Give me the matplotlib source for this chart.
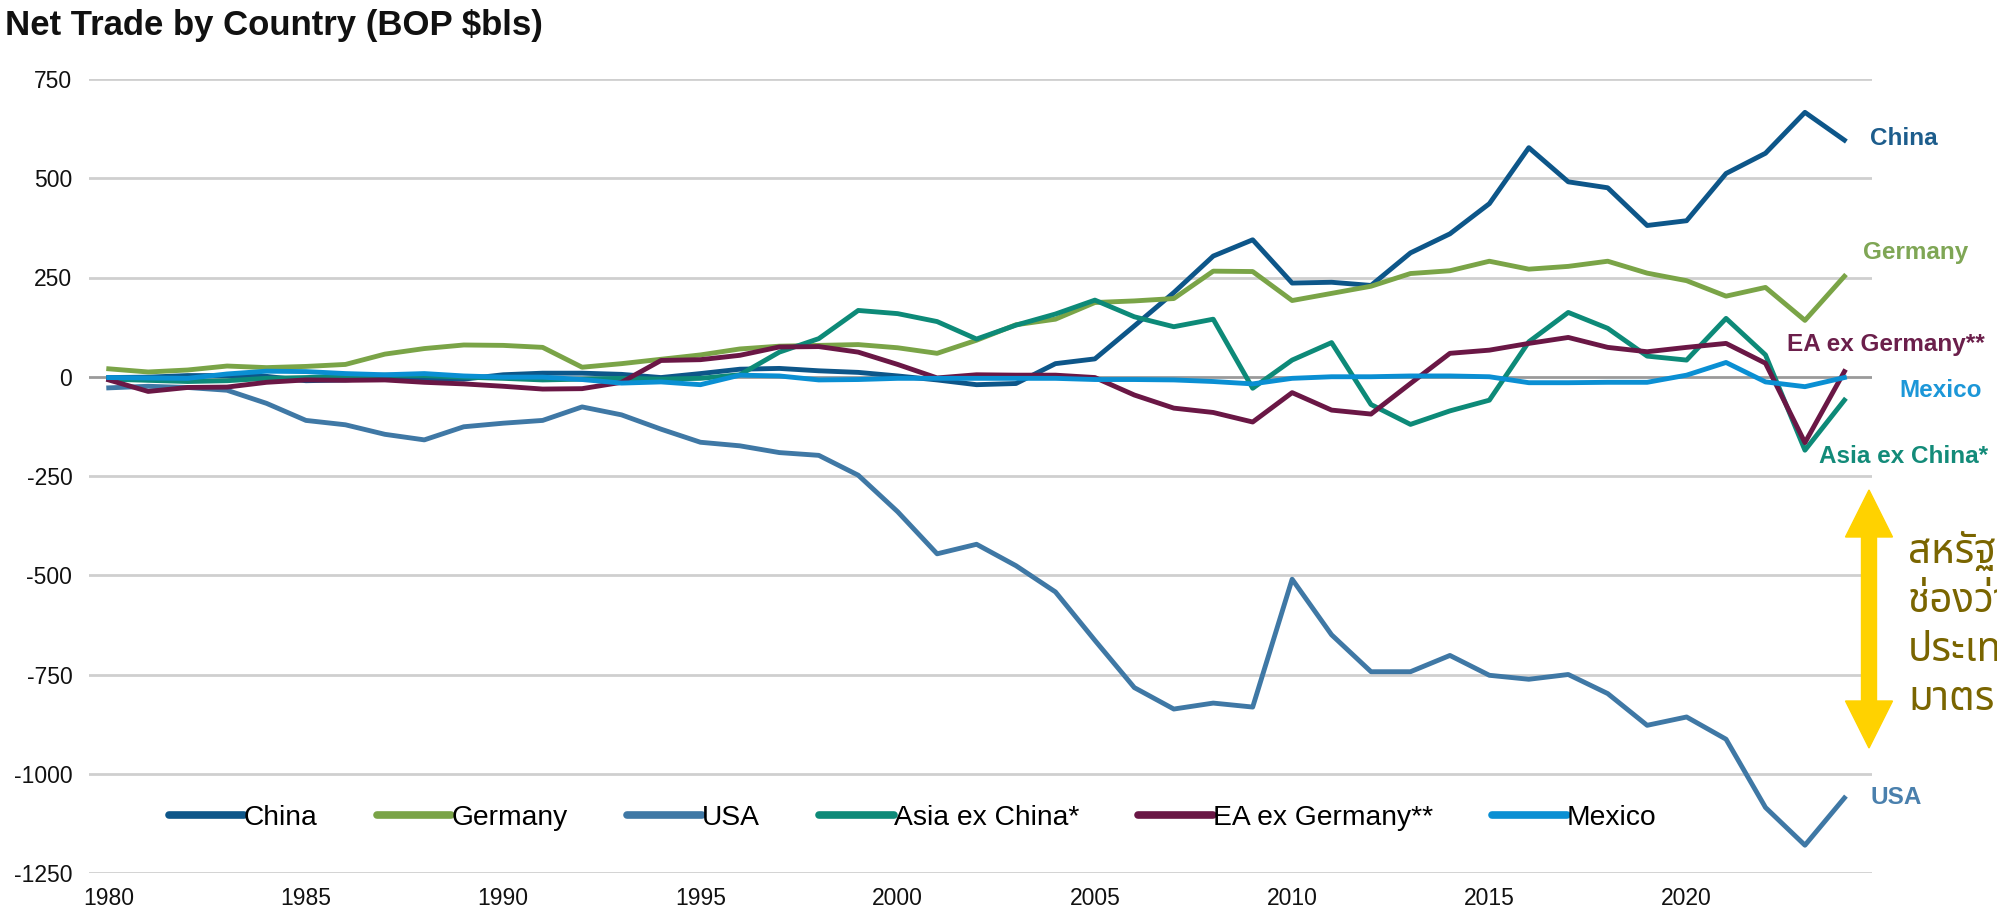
import matplotlib
matplotlib.use('Agg')
import matplotlib.pyplot as plt  # plotting
import matplotlib.patches as mpatches
import matplotlib.transforms as mtransforms

# ---- data (BOP $bls) ----
years = list(range(1980, 2025))

china = [-2, -1, 3, 3, 1, -10, -8, -3, -5, -6, 5, 9, 9, 6, -2, 8, 19, 21, 15, 11,
         2, -8, -20, -17, 33, 45, 128, 212, 304, 345, 236, 238, 230, 312, 360, 436,
         577, 491, 476, 381, 393, 512, 563, 666, 596]
germany = [20, 12, 17, 27, 23, 26, 31, 57, 71, 80, 79, 74, 24, 33, 44, 55, 70, 77, 79, 81,
           73, 59, 92, 131, 145, 187, 191, 197, 266, 265, 192, 210, 228, 260, 267, 291,
           271, 278, 291, 261, 242, 203, 225, 142, 253]
usa = [-28, -24, -27, -34, -67, -110, -121, -145, -159, -126, -117, -110, -76, -96, -132,
       -165, -174, -191, -198, -248, -340, -446, -422, -476, -542, -664, -783, -837, -822,
       -832, -510, -650, -743, -743, -702, -752, -762, -750, -798, -878, -857, -913, -1085,
       -1180, -1061]
asia_ex_china = [-6, -9, -12, -10, -4, -2, 1, 4, 3, -1, -4, -8, -6, -4, -6, -4, 5, 62, 96, 167,
                 159, 139, 95, 130, 158, 193, 151, 126, 145, -29, 42, 86, -70, -120, -86, -59,
                 88, 162, 122, 52, 42, 147, 55, -185, -59]
ea_ex_germany = [-8, -37, -27, -26, -14, -8, -9, -8, -14, -18, -24, -31, -30, -14, 41, 43, 54,
                 75, 76, 62, 31, -3, 5, 4, 4, -2, -46, -79, -90, -114, -40, -84, -94, -17, 59,
                 67, 84, 99, 74, 63, 74, 84, 34, -166, 13]
mexico = [-2, -3, -4, 7, 14, 13, 8, 5, 8, 2, -1, -1, -7, -16, -13, -20, 4, 2, -8, -7, -4, -4,
          -4, -4, -4, -7, -7, -8, -12, -18, -4, 0, 0, 2, 2, 0, -15, -15, -14, -14, 4, 36, -13,
          -25, -2]

series_names = ['China', 'Germany', 'USA', 'Asia ex China*', 'EA ex Germany**', 'Mexico']
series_values = [china, germany, usa, asia_ex_china, ea_ex_germany, mexico]
line_colors = ['#0d5689', '#7aa447', '#3f78a5', '#0d8a78', '#6a1745', '#0a8fd3']
label_colors = ['#1d5d8c', '#7fa655', '#4a80ad', '#138b79', '#6b1f4b', '#1c97d8']

y_ticks = [750, 500, 250, 0, -250, -500, -750, -1000, -1250]
x_ticks = [1980, 1985, 1990, 1995, 2000, 2005, 2010, 2015, 2020]

# end labels: (x, y) in data units
end_label_pos = [(2024.65, 601), (2024.47, 314), (2023.35, -200), (2024.65, -1060),
                 (2022.54, 80), (2025.4, -34)]
end_label_order = ['China', 'Germany', 'Asia ex China*', 'USA', 'EA ex Germany**', 'Mexico']

thai_lines = ['สหรัฐฯ', 'ช่องว่าง', 'ประเทศ', 'มาตรการ']

plt.rcParams['font.family'] = ['Liberation Sans', 'DejaVu Sans']

W, H = 1997, 909
fig = plt.figure(figsize=(W / 100, H / 100), dpi=100)
ax = fig.add_axes([89 / W, 1 - 873 / H, (1872 - 89) / W, (873 - 79) / H])

for name, vals, col in zip(series_names, series_values, line_colors):
    ax.plot(years, vals, color=col, lw=3.5, label=name, solid_joinstyle='round', zorder=3)

ax.set_xlim(1979.5, 2024.7)
ax.set_ylim(-1250, 750)
ax.set_yticks(y_ticks)
ax.set_yticklabels([str(v) for v in y_ticks])
ax.set_xticks(x_ticks)
ax.tick_params(length=0, labelsize=16.5, colors='#111111')
ax.tick_params(axis='y', pad=12)
ax.tick_params(axis='x', pad=10)
for spine in ax.spines.values():
    spine.set_visible(False)

# gridlines, zero line a bit darker
for v in y_ticks:
    ax.axhline(v, color='#9a9a9a' if v == 0 else '#cfcfcf', lw=2.0, zorder=1)

leg = ax.legend(loc='center', bbox_to_anchor=(0.462, 0.069), ncol=6, frameon=False,
                fontsize=20.3, handlelength=2.65, handletextpad=0.0, columnspacing=2.1)
for l in leg.get_lines():
    l.set_linewidth(5.5)
    l.set_solid_capstyle('round')

# coloured series names on the right
for name, (xl, yl) in zip(end_label_order, end_label_pos):
    col = label_colors[series_names.index(name)]
    ax.text(xl, yl, name, color=col, fontsize=17.5, fontweight='bold', va='center',
            ha='left', clip_on=False)

fig.text(5 / W, 1 - 26 / H, 'Net Trade by Country (BOP $bls)', fontsize=25,
         fontweight='bold', va='center', ha='left', color='#111111')

# yellow double arrow
px = mtransforms.IdentityTransform()
ax_mid = 909 - 619
for dy in (909 - 490 - ax_mid, 909 - 748 - ax_mid):
    arr = mpatches.FancyArrow(1869, ax_mid, 0, dy, width=15, head_width=47, head_length=47,
                              length_includes_head=True, color='#ffd200', transform=px,
                              zorder=5)
    fig.add_artist(arr)

thai_fonts = ['Noto Sans Thai', 'Noto Sans Thai Looped', 'Loma', 'Garuda', 'Waree',
              'Norasi', 'Tlwg Typist', 'DejaVu Sans']
for i, t in enumerate(thai_lines):
    fig.text(1908 / W, 1 - (553 + i * 49) / H, t, fontsize=29, color='#7a6500',
             va='center', ha='left', family=thai_fonts)

fig.savefig('out.png', dpi=100)
